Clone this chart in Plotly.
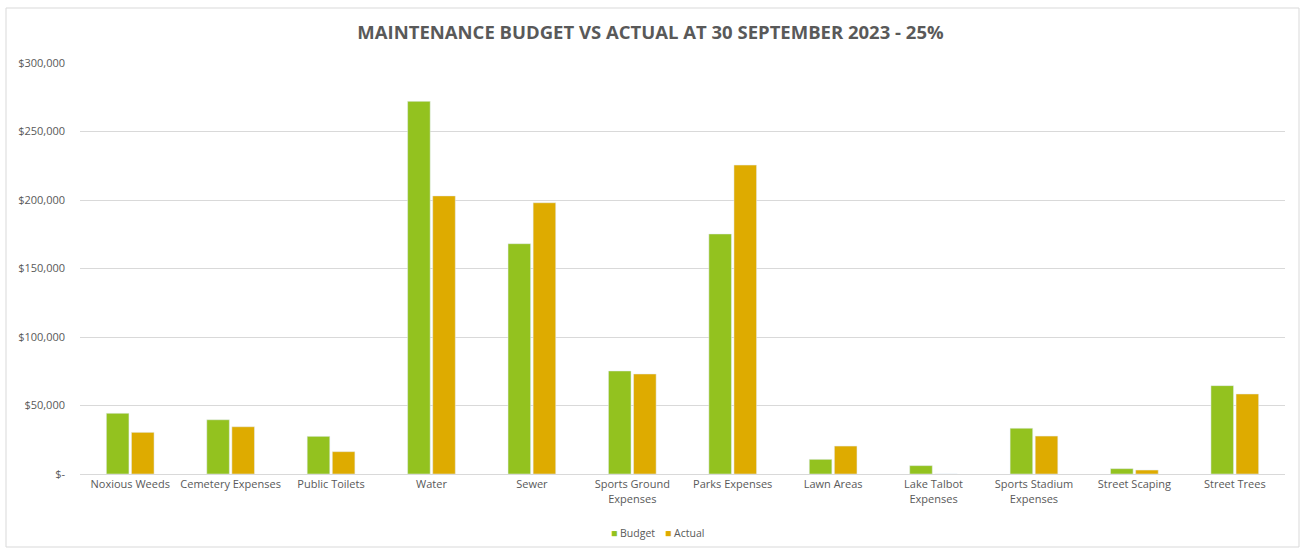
import plotly.graph_objects as go

categories = ["Noxious Weeds", "Cemetery Expenses", "Public Toilets", "Water", "Sewer",
              "Sports Ground<br>Expenses", "Parks Expenses", "Lawn Areas",
              "Lake Talbot<br>Expenses", "Sports Stadium<br>Expenses", "Street Scaping", "Street Trees"]
budget = [44300, 39600, 27500, 272000, 168100, 75200, 175200, 10700, 6100, 33400, 3900, 64500]
actual = [30400, 34500, 16300, 203000, 198000, 73000, 225500, 20400, 0, 27700, 2900, 58400]
tick_vals = [0, 50000, 100000, 150000, 200000, 250000, 300000]
tick_text = ["$-", "$50,000", "$100,000", "$150,000", "$200,000", "$250,000", "$300,000"]
series_names = ["Budget", "Actual"]

GREEN = "#93C21F"
GOLD = "#DEAB00"
TXT = "#595959"
FONT = "Open Sans"

fig = go.Figure()
fig.add_trace(go.Bar(name=series_names[0], x=categories, y=budget, marker_color=GREEN))
fig.add_trace(go.Bar(name=series_names[1], x=categories, y=actual, marker_color=GOLD))

L, R, T, B = 80, 16, 63, 74
W, H = 1301, 548
pw, ph = W - L - R, H - T - B

fig.update_layout(
    width=W, height=H,
    margin=dict(l=L, r=R, t=T, b=B, autoexpand=False),
    paper_bgcolor="white", plot_bgcolor="white",
    barmode="group", bargap=0.5, bargroupgap=0.1,
    font=dict(family=FONT, color=TXT, size=11),
    title=dict(text="<b>MAINTENANCE BUDGET VS ACTUAL AT 30 SEPTEMBER 2023 - 25%</b>",
               x=0.5, xanchor="center", y=1 - 33 / H, yanchor="middle",
               font=dict(family=FONT, size=18.5, color=TXT)),
    showlegend=False,
)
fig.update_xaxes(showgrid=False, showline=True, linecolor="#D9D9D9", linewidth=1,
                 ticks="", tickfont=dict(size=11, color=TXT), tickangle=0, fixedrange=True)
fig.update_yaxes(range=[0, 300000], tickvals=tick_vals, ticktext=tick_text,
                 showgrid=True, gridcolor="#D9D9D9", gridwidth=1, zeroline=False,
                 showline=False, ticks="", ticklabelstandoff=14,
                 tickfont=dict(size=11, color=TXT))

# legend drawn as text with coloured squares
leg_y = -(533 - (H - B)) / ph
fig.add_annotation(xref="paper", yref="paper", x=(609 - L) / pw, y=leg_y,
                   xanchor="left", yanchor="middle", showarrow=False,
                   text=f"<span style='color:{GREEN}'>■</span> {series_names[0]}",
                   font=dict(size=10.5, color=TXT, family=FONT))
fig.add_annotation(xref="paper", yref="paper", x=(663 - L) / pw, y=leg_y,
                   xanchor="left", yanchor="middle", showarrow=False,
                   text=f"<span style='color:{GOLD}'>■</span> {series_names[1]}",
                   font=dict(size=10.5, color=TXT, family=FONT))

# outer chart border
fig.add_shape(type="rect", xref="paper", yref="paper",
              x0=(6 - L) / pw, x1=(1299 - L) / pw,
              y0=-(547 - (H - B)) / ph, y1=((H - B) - 8) / ph,
              line=dict(color="#D9D9D9", width=1), layer="below")

fig.write_html("out.html")
